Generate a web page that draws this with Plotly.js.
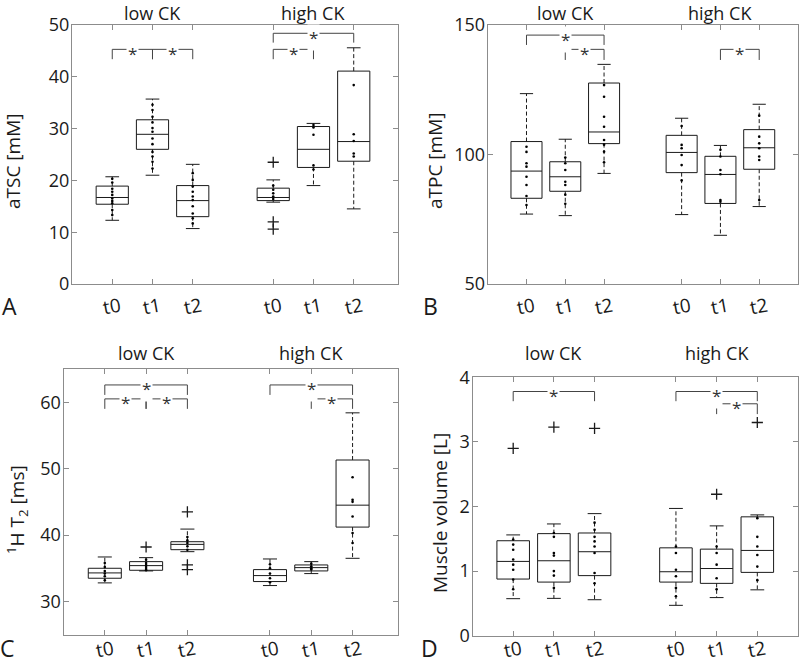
<!DOCTYPE html>
<html><head><meta charset="utf-8">
<script src="https://cdn.plot.ly/plotly-3.0.1.min.js"></script>
<style>html,body{margin:0;padding:0;background:#fff}#chart{width:800px;height:666px}</style>
</head><body><div id="chart"></div>
<script>
const W = 800, H = 666;
const tickLabels = ['t0', 't1', 't2', 't0', 't1', 't2'];
const positions = [1, 2, 3, 5, 6, 7];
const groupLabels = ['low CK', 'high CK'];
const groupCenters = [2, 6];

// Panel A: aTSC [mM]
const aTSC_q1  = [15.4, 26.0, 13.0, 16.1, 22.5, 23.7];
const aTSC_med = [16.7, 28.9, 16.1, 16.7, 26.0, 27.5];
const aTSC_q3  = [18.9, 31.7, 19.0, 18.5, 30.4, 41.1];
const aTSC_lo  = [12.3, 21.0, 10.7, 15.8, 19.0, 14.5];
const aTSC_hi  = [20.7, 35.7, 23.1, 20.1, 31.0, 45.6];
const aTSC_out = [[], [], [], [23.5, 12.0, 10.6], [], []];
const aTSC_pts = [
  [20.3, 19.6, 18.4, 17.8, 17.2, 16.5, 16.0, 15.6, 14.3, 13.3],
  [34.6, 33.6, 32.3, 31.2, 30.1, 29.4, 28.1, 27.0, 25.5, 24.6, 23.6, 22.3],
  [21.4, 20.1, 18.8, 17.8, 16.9, 16.2, 15.0, 13.6, 12.7, 11.7],
  [19.0, 18.2, 17.5, 16.9, 16.4],
  [30.7, 30.2, 28.8, 22.9, 22.1],
  [38.4, 28.9, 27.6, 25.2, 24.6]
];
const aTSC_sig = [[1, 2, 45.3, 43.4], [2, 3, 45.3, 43.4], [5, 7, 48.4, 46.6], [5, 6, 45.3, 43.4]];

// Panel B: aTPC [mM]
const aTPC_q1  = [83.1, 85.8, 104.2, 93.0, 81.1, 94.3];
const aTPC_med = [93.6, 91.4, 108.7, 100.8, 92.3, 102.6];
const aTPC_q3  = [105.0, 97.2, 127.6, 107.4, 99.3, 109.6];
const aTPC_lo  = [77.0, 76.4, 92.7, 76.8, 68.8, 79.9];
const aTPC_hi  = [123.5, 105.9, 134.8, 114.0, 103.5, 119.4];
const aTPC_out = [[], [], [], [], [], []];
const aTPC_pts = [
  [103.0, 101.0, 96.6, 95.3, 91.4, 88.2, 84.0, 80.5],
  [98.8, 96.6, 94.0, 89.5, 88.2, 84.5, 81.0],
  [126.8, 122.3, 114.6, 110.7, 105.6, 103.8, 101.1, 97.0],
  [111.0, 103.7, 102.4, 99.8, 95.9, 90.0],
  [101.8, 99.2, 94.0, 92.4, 82.4, 81.8],
  [115.0, 106.9, 104.3, 102.4, 99.2, 97.9, 82.4]
];
const aTPC_sig = [[1, 3, 146.1, 142.3], [2, 3, 140.6, 136.5], [6, 7, 140.6, 136.5]];

// Panel C: 1H T2 [ms]
const T2_q1  = [33.5, 34.7, 37.8, 33.0, 34.6, 41.2];
const T2_med = [34.3, 35.4, 38.6, 33.9, 35.1, 44.5];
const T2_q3  = [35.0, 36.0, 39.0, 34.8, 35.5, 51.3];
const T2_lo  = [32.8, 34.6, 37.5, 32.4, 34.2, 36.5];
const T2_hi  = [36.7, 36.6, 40.9, 36.4, 36.0, 58.4];
const T2_out = [[], [38.2], [43.5, 35.5, 34.8], [], [], []];
const T2_pts = [
  [35.8, 35.2, 34.6, 34.2, 33.8, 33.2],
  [36.3, 35.8, 35.5, 35.2, 34.9, 34.7],
  [39.7, 39.2, 38.8, 38.3, 37.8],
  [35.6, 35.0, 34.2, 33.5, 32.9],
  [35.7, 35.3, 35.0, 34.8],
  [48.7, 45.3, 45.0, 42.8, 40.3, 38.8]
];
const T2_sig = [[1, 3, 62.6, 61.1], [1, 2, 60.5, 59.0], [2, 3, 60.5, 59.0], [5, 7, 62.6, 61.1], [6, 7, 60.5, 59.0]];

// Panel D: Muscle volume [L]
const vol_q1  = [0.877, 0.83, 0.93, 0.83, 0.81, 0.98];
const vol_med = [1.15, 1.16, 1.30, 0.99, 1.04, 1.32];
const vol_q3  = [1.47, 1.58, 1.59, 1.36, 1.34, 1.84];
const vol_lo  = [0.573, 0.578, 0.557, 0.47, 0.59, 0.71];
const vol_hi  = [1.56, 1.73, 1.89, 1.97, 1.70, 1.87];
const vol_out = [[2.90], [3.23], [3.21], [], [2.19], [3.30]];
const vol_pts = [
  [1.49, 1.41, 1.33, 1.18, 1.10, 1.02, 0.87, 0.72],
  [1.59, 1.53, 1.28, 1.24, 1.00, 0.93, 0.74],
  [1.75, 1.64, 1.53, 1.46, 1.38, 1.28, 0.97, 0.81],
  [1.38, 1.28, 1.02, 0.92, 0.74, 0.61],
  [1.38, 1.28, 1.10, 0.89, 0.72],
  [1.82, 1.53, 1.38, 1.25, 1.07, 0.86]
];
const vol_sig = [[1, 3, 3.78, 3.63], [5, 7, 3.78, 3.63], [6, 7, 3.59, 3.43]];

const FONT = 'Open Sans, Noto Sans, sans-serif';
const INK = '#1a1a1a';
const AXC = '#8c8c8c';

const panels = [
  {letter: 'A', ax: '', q1: aTSC_q1, med: aTSC_med, q3: aTSC_q3, lo: aTSC_lo, hi: aTSC_hi, out: aTSC_out, pts: aTSC_pts, sig: aTSC_sig,
   title: 'aTSC [mM]', xpx: [72, 398], ypx: [25, 284], xr: [0, 8.1], yr: [0, 50], yt: [0, 10, 20, 30, 40, 50],
   titlePos: [13, 162], letterPos: [9, 306], groupY: 13, tickY: 306},
  {letter: 'B', ax: '2', q1: aTPC_q1, med: aTPC_med, q3: aTPC_q3, lo: aTPC_lo, hi: aTPC_hi, out: aTPC_out, pts: aTPC_pts, sig: aTPC_sig,
   title: 'aTPC [mM]', xpx: [487.7, 798], ypx: [25, 284], xr: [0, 8], yr: [50, 150], yt: [50, 100, 150],
   titlePos: [435, 161], letterPos: [430, 306], groupY: 13, tickY: 306},
  {letter: 'C', ax: '3', q1: T2_q1, med: T2_med, q3: T2_q3, lo: T2_lo, hi: T2_hi, out: T2_out, pts: T2_pts, sig: T2_sig,
   title: '<sup>1</sup>H T<sub>2</sub> [ms]', xpx: [63.5, 398], ypx: [369, 634.7], xr: [0, 8.1], yr: [25, 65], yt: [30, 40, 50, 60],
   titlePos: [17, 510], letterPos: [7, 648], groupY: 353, tickY: 649},
  {letter: 'D', ax: '4', q1: vol_q1, med: vol_med, q3: vol_q3, lo: vol_lo, hi: vol_hi, out: vol_out, pts: vol_pts, sig: vol_sig,
   title: 'Muscle volume [L]', xpx: [472.5, 798], ypx: [377.3, 635.7], xr: [0, 8], yr: [0, 4], yt: [0, 1, 2, 3, 4],
   titlePos: [440, 513], letterPos: [429, 648], groupY: 353, tickY: 649}
];

const HALF = 0.4, CAP = 0.17;
const traces = [];
const annotations = [];
const layout = {
  width: W, height: H, margin: {l: 0, r: 0, t: 0, b: 0},
  paper_bgcolor: '#fff', plot_bgcolor: '#fff', showlegend: false,
  font: {family: FONT, color: INK}, annotations: annotations
};

panels.forEach(p => {
  const xa = 'x' + p.ax, ya = 'y' + p.ax;
  layout['xaxis' + p.ax] = {
    domain: [p.xpx[0] / W, p.xpx[1] / W], range: p.xr, anchor: ya,
    tickmode: 'array', tickvals: positions, ticktext: tickLabels, showticklabels: false,
    ticks: 'inside', ticklen: 5, tickcolor: AXC, tickwidth: 1,
    showline: true, linecolor: AXC, linewidth: 1, mirror: 'ticks',
    showgrid: false, zeroline: false, fixedrange: true
  };
  layout['yaxis' + p.ax] = {
    domain: [1 - p.ypx[1] / H, 1 - p.ypx[0] / H], range: p.yr, anchor: xa,
    tickmode: 'array', tickvals: p.yt,
    ticks: 'inside', ticklen: 5, tickcolor: AXC, tickwidth: 1,
    showline: true, linecolor: AXC, linewidth: 1, mirror: 'ticks',
    showgrid: false, zeroline: false, fixedrange: true,
    tickfont: {family: FONT, size: 18, color: INK}, ticklabelstandoff: -2
  };

  const bx = [], by = [], wx = [], wy = [], cx = [], cy = [];
  const dx = [], dy = [], ox = [], oy = [];
  positions.forEach((x, i) => {
    bx.push(x - HALF, x + HALF, x + HALF, x - HALF, x - HALF, null, x - HALF, x + HALF, null);
    by.push(p.q1[i], p.q1[i], p.q3[i], p.q3[i], p.q1[i], null, p.med[i], p.med[i], null);
    wx.push(x, x, null, x, x, null);
    wy.push(p.q3[i], p.hi[i], null, p.q1[i], p.lo[i], null);
    cx.push(x - CAP, x + CAP, null, x - CAP, x + CAP, null);
    cy.push(p.hi[i], p.hi[i], null, p.lo[i], p.lo[i], null);
    p.pts[i].forEach(v => { dx.push(x); dy.push(v); });
    p.out[i].forEach(v => { ox.push(x); oy.push(v); });
  });
  const common = {xaxis: xa, yaxis: ya, hoverinfo: 'skip', cliponaxis: false};
  traces.push(Object.assign({type: 'scatter', mode: 'lines', x: wx, y: wy, line: {color: INK, width: 1, dash: '4px,2.5px'}}, common));
  traces.push(Object.assign({type: 'scatter', mode: 'lines', x: bx, y: by, line: {color: INK, width: 1}}, common));
  traces.push(Object.assign({type: 'scatter', mode: 'lines', x: cx, y: cy, line: {color: INK, width: 1}}, common));
  traces.push(Object.assign({type: 'scatter', mode: 'markers', x: dx, y: dy, marker: {color: '#000', size: 2.6}}, common));
  traces.push(Object.assign({type: 'scatter', mode: 'markers', x: ox, y: oy,
    marker: {symbol: 'cross-thin-open', size: 8, color: INK, line: {color: INK, width: 1.3}}}, common));

  const sx = [], sy = [];
  p.sig.forEach(s => {
    sx.push(s[0], s[0], s[1], s[1], null);
    sy.push(s[3], s[2], s[2], s[3], null);
    annotations.push({xref: xa, yref: ya, x: (s[0] + s[1]) / 2, y: s[2], text: '*', showarrow: false,
      font: {family: FONT, size: 17, color: '#333'}, bgcolor: '#fff', borderpad: 1, yshift: -4, yanchor: 'middle'});
  });
  traces.push(Object.assign({type: 'scatter', mode: 'lines', x: sx, y: sy, line: {color: '#444', width: 1}}, common));

  // x tick labels (slightly slanted as in the original)
  positions.forEach((x, i) => {
    annotations.push({xref: xa, yref: 'paper', x: x, y: 1 - p.tickY / H, text: tickLabels[i], showarrow: false,
      textangle: -10, font: {family: FONT, size: 19, color: INK}, xanchor: 'center', yanchor: 'middle'});
  });
  groupLabels.forEach((g, k) => {
    annotations.push({xref: xa, yref: 'paper', x: groupCenters[k], y: 1 - p.groupY / H, text: g, showarrow: false,
      font: {family: FONT, size: 18, color: INK}, xanchor: 'center', yanchor: 'middle'});
  });
  annotations.push({xref: 'paper', yref: 'paper', x: p.titlePos[0] / W, y: 1 - p.titlePos[1] / H, text: p.title,
    showarrow: false, textangle: -90, font: {family: FONT, size: 19, color: INK}, xanchor: 'center', yanchor: 'middle'});
  annotations.push({xref: 'paper', yref: 'paper', x: p.letterPos[0] / W, y: 1 - p.letterPos[1] / H, text: p.letter,
    showarrow: false, font: {family: FONT, size: 23, color: INK}, xanchor: 'center', yanchor: 'middle'});
});

Plotly.newPlot('chart', traces, layout, {displayModeBar: false, staticPlot: true});
</script>
</body></html>
